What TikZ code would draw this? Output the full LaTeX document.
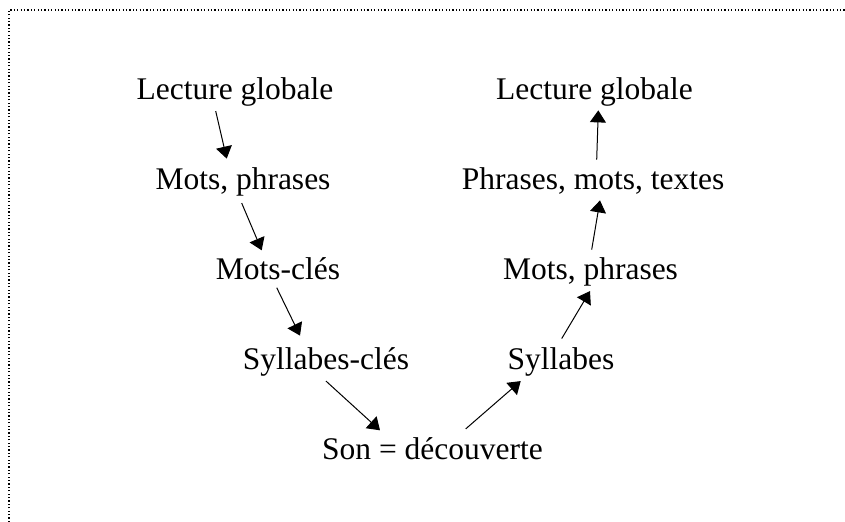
\documentclass[tikz,border=0pt]{standalone}
\usepackage{fontspec}
\setmainfont{Liberation Serif}
\usetikzlibrary{arrows.meta,positioning}

\begin{document}
\begin{tikzpicture}[node distance={45pt}, main/.style = {inner sep=0pt, text height=11pt, text depth=3.5pt, font=\fontsize{15.75pt}{18pt}\selectfont}, link/.style = {-{Triangle[length=6pt, width=8pt]}, line width=0.5pt}, frame/.style = {line width=0.6pt, dash pattern=on 0.6pt off 1.1pt}]
	\useasboundingbox (0,0) rectangle (422.5pt,-261pt);
	\draw[frame] (4.5pt,-261pt) -- (4.5pt,-5pt) -- (422.5pt,-5pt);
	% descente
	\node[main] at (117.5pt,-46.25pt) (L1) {Lecture globale};
	\node[main] [below of=L1, xshift=4pt] (L2) {Mots, phrases};
	\draw[link] ([shift={(-9.65pt,-1.85pt)}]L1.south) -- ([shift={(-8.15pt,4.5pt)}]L2.north);
	\node[main] [below of=L2, xshift=17.5pt] (L3) {Mots-clés};
	\draw[link] ([shift={(-0.65pt,-2.85pt)}]L2.south) -- ([shift={(-8.15pt,3.65pt)}]L3.north);
	\node[main] [below of=L3, xshift=24pt] (L4) {Syllabes-clés};
	\draw[link] ([shift={(-0.65pt,-0.15pt)}]L3.south) -- ([shift={(-13pt,6pt)}]L4.north);
	\node[main] [below of=L4, xshift=53.25pt] (S) {Son = découverte};
	\draw[link] ([shift={(0pt,-1.85pt)}]L4.south) -- ([shift={(-26.25pt,3.65pt)}]S.north);
	% remontée
	\node[main] [above of=S, xshift=64.25pt] (R4) {Syllabes};
	\draw[link] ([shift={(16.6pt,4.35pt)}]S.north) -- ([shift={(-20.15pt,-1.85pt)}]R4.south);
	\node[main] [above of=R4, xshift=14.75pt] (R3) {Mots, phrases};
	\draw[link] ([shift={(0.35pt,4.5pt)}]R4.north) -- ([shift={(-0.25pt,-1.85pt)}]R3.south);
	\node[main] [above of=R3, xshift=1.25pt] (R2) {Phrases, mots, textes};
	\draw[link] ([shift={(0.6pt,4pt)}]R3.north) -- ([shift={(3.5pt,-1.5pt)}]R2.south);
	\node[main] [above of=R2, xshift=0.75pt] (R1) {Lecture globale};
	\draw[link] ([shift={(1.85pt,4pt)}]R2.north) -- ([shift={(1.9pt,-1.5pt)}]R1.south);
\end{tikzpicture}
\end{document}
